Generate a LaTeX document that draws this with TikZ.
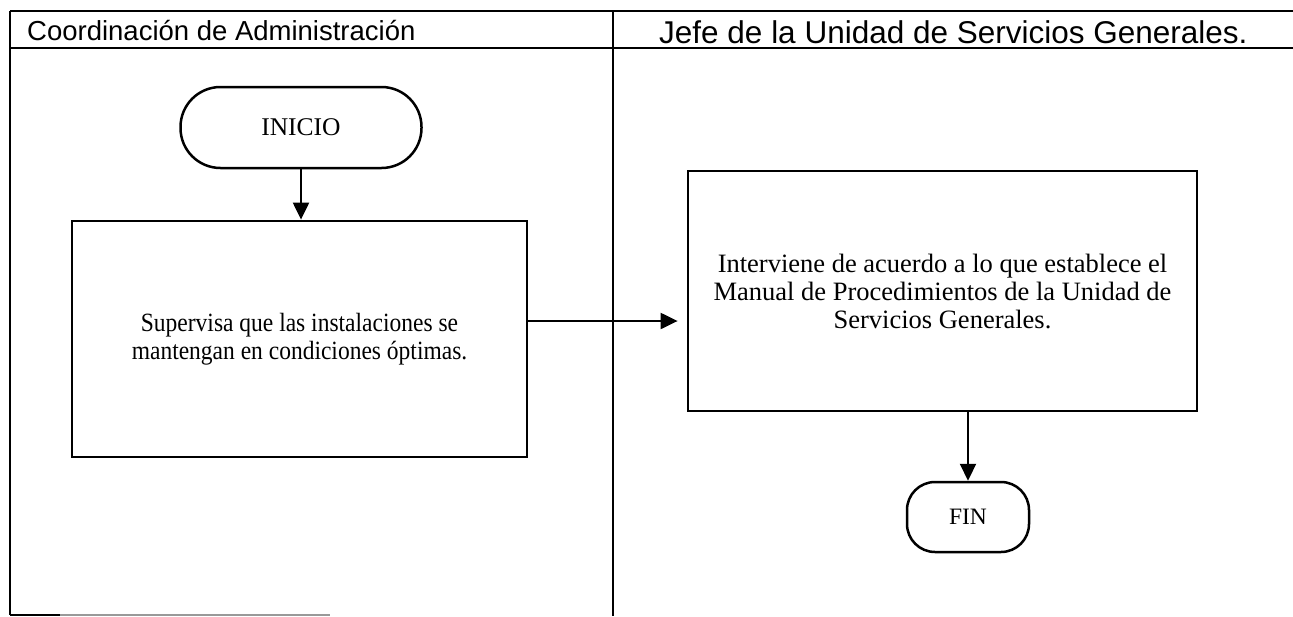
\documentclass[tikz,border=0pt]{standalone}
\usepackage{fontspec}
\setmainfont{Liberation Serif}
\newfontfamily\hdrfont{Liberation Sans}
\usetikzlibrary{arrows.meta}
\begin{document}
\begin{tikzpicture}[x=1pt,y=-1pt,
  frame/.style={line width=2.2pt},
  procbox/.style={draw, line width=2.8pt, inner sep=0pt, align=center},
  term/.style={draw, line width=2.5pt, inner sep=0pt, align=center},
  arr/.style={line width=2.2pt, -{Triangle[length=17pt,width=16pt]}},
  hdr/.style={anchor=base west, inner sep=0pt}]
\useasboundingbox (0,0) rectangle (1293,616);
% frame
\draw[frame] (10,11) -- (1293,11);
\draw[frame] (10,48) -- (1293,48);
\draw[frame] (10,11) -- (10,615);
\draw[frame] (613,11) -- (613,616);
\draw[frame] (10,615) -- (60,615);
\draw[line width=1.4pt, black!40] (60,615) -- (330,615);
% headers
\node[hdr, font=\hdrfont\fontsize{27.5}{30}\selectfont] (h1) at (27,40) {Coordinación de Administración};
\node[hdr, font=\hdrfont\fontsize{31.5}{34}\selectfont] (h2) at (659,43) {Jefe de la Unidad de Servicios Generales.};
% nodes
\node[term, rounded corners=40pt, minimum width=241pt, minimum height=81pt,
      font=\fontsize{25.5}{28}\selectfont] (ini) at (301,127.5) {INICIO};
\node[procbox, minimum width=455pt, minimum height=236pt,
      font=\fontsize{23.5}{28}\selectfont] (b1) at (299.5,339)
  {\scalebox{1}[1.12]{Supervisa que las instalaciones se}\\ \scalebox{1}[1.12]{mantengan en condiciones óptimas.}};
\node[procbox, minimum width=509pt, minimum height=240pt,
      font=\fontsize{26.5}{28}\selectfont] (b2) at (942.5,291)
  {Interviene de acuerdo a lo que establece el\\ Manual de Procedimientos de la Unidad de\\ Servicios Generales.};
\node[term, rounded corners=28pt, minimum width=122pt, minimum height=70pt,
      font=\fontsize{23.5}{28}\selectfont] (fin) at (968,517) {FIN};
% connectors
\coordinate (m) at (0,321);
\draw[arr] (ini.south) -- (ini.south |- b1.north);
\draw[arr, shorten >=9pt] (b1.east |- m) -- (b2.west |- m);
\draw[arr] (b2.south -| fin.north) -- (fin.north);
\end{tikzpicture}
\end{document}
